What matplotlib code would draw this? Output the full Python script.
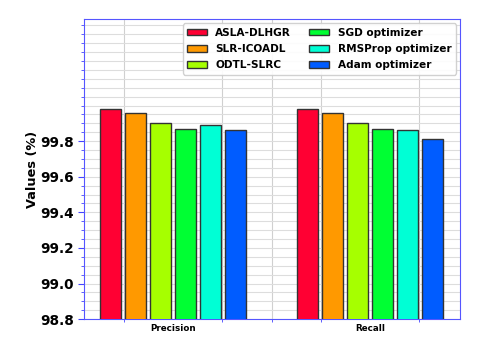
import numpy as np
import matplotlib
matplotlib.use("Agg")
import matplotlib.pyplot as plt
from matplotlib.ticker import MultipleLocator

# Data
metrics = ["Precision", "Recall"]
methods = ["ASLA-DLHGR", "SLR-ICOADL", "ODTL-SLRC",
           "SGD optimizer", "RMSProp optimizer", "Adam optimizer"]
precision = [99.98, 99.96, 99.90, 99.87, 99.89, 99.86]
recall = [99.98, 99.96, 99.90, 99.87, 99.86, 99.81]
colors = ["#ff0033", "#ff9900", "#a6ff00", "#00ff33", "#00ffd5", "#005cff"]

values = np.array([precision, recall])
x = np.arange(len(metrics))
pitch = 0.127
width = 0.105

fig = plt.figure(figsize=(4.95, 3.55), dpi=100)
ax = fig.add_axes([0.170, 0.101, 0.759, 0.845])

for i, name in enumerate(methods):
    ax.bar(x + (i - 2.5) * pitch, values[:, i], width=width, color=colors[i],
           edgecolor="#333333", linewidth=1.0, label=name, zorder=3)

ax.set_ylim(98.8, 100.485)
ax.set_xlim(-0.452, 1.457)
yt = np.arange(98.8, 99.81, 0.2)
ax.set_yticks(yt)
ax.set_yticklabels([f"{v:.1f}" for v in yt], fontsize=9.8, fontweight="bold")
ax.yaxis.set_minor_locator(MultipleLocator(0.05))
ax.set_xticks(x)
ax.set_xticklabels(metrics, fontsize=6.3, fontweight="bold")
ax.set_xticks([-0.25, 0.25, 0.5, 0.75, 1.25], minor=True)

ax.grid(True, axis="y", which="both", color="#dddddd", linewidth=0.8, zorder=0)
ax.grid(True, axis="x", which="minor", color="#d0d0d0", linewidth=0.8, zorder=0)
ax.grid(False, axis="x", which="major")
ax.tick_params(axis="both", which="both", colors="#4444ff", labelcolor="black")
ax.tick_params(axis="x", which="major", length=0)
ax.tick_params(axis="y", which="major", length=4)
ax.tick_params(axis="both", which="minor", length=2)

for s in ax.spines.values():
    s.set_color("#5555ff")

ax.set_ylabel("Values (%)", fontsize=9.3, fontweight="bold")
ax.yaxis.set_label_coords(-0.12, 0.5)

ax.legend(loc="upper right", ncol=2, prop={"weight": "bold", "size": 7.6},
          handlelength=1.9, handleheight=0.6, columnspacing=1.7,
          labelspacing=0.6, borderaxespad=0.4, framealpha=0.9)

fig.savefig("out.png", dpi=100)
